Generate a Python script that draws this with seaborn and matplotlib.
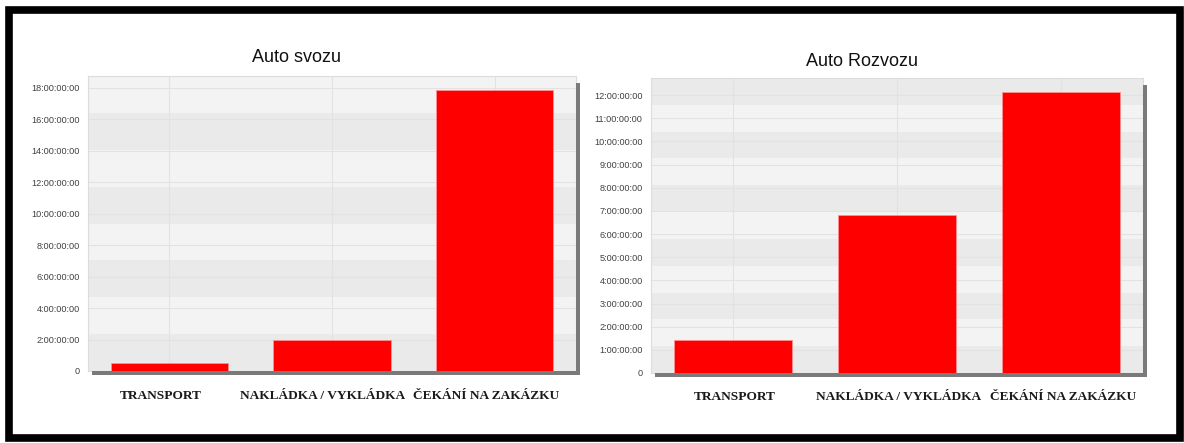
import numpy as np
import pandas as pd
import matplotlib
matplotlib.use("Agg")
import matplotlib.pyplot as plt
from matplotlib.patches import Rectangle
import seaborn as sns

# data (hours)
categories = ["TRANSPORT", "NAKLÁDKA / VYKLÁDKA", "ČEKÁNÍ NA ZAKÁZKU"]
svoz_hours = [0.51, 1.95, 17.87]
rozvoz_hours = [1.41, 6.83, 12.12]
svoz_ticks = [0, 2, 4, 6, 8, 10, 12, 14, 16, 18]
rozvoz_ticks = [0, 1, 2, 3, 4, 5, 6, 7, 8, 9, 10, 11, 12]
titles = ["Auto svozu", "Auto Rozvozu"]

sns.set_style("white")
plt.rcParams['font.family'] = ['Liberation Sans', 'DejaVu Sans']

W, H = 1184, 443
fig = plt.figure(figsize=(W / 100, H / 100), dpi=100)


def px_axes(left, top, right, bottom):
    return fig.add_axes([left / W, 1 - bottom / H, (right - left) / W, (bottom - top) / H])


def fmt(h):
    return "0" if h == 0 else "%d:00:00:00" % h


def draw(ax, values, ticks, ytop, nbands, lab_shift, lab_y):
    df = pd.DataFrame({"kat": categories, "hod": values})
    ax.set_facecolor("#f3f3f3")
    step = ytop / nbands
    for i in range(0, nbands, 2):
        ax.axhspan(i * step, (i + 1) * step, color="#eaeaea", zorder=0, lw=0)
    sns.barplot(data=df, x="kat", y="hod", color="#ff0000", width=0.72,
                saturation=1, edgecolor="#ff9090", linewidth=0.6, ax=ax, zorder=3)
    ax.set_xlim(-0.5, 2.5)
    ax.set_ylim(0, ytop)
    ax.set_yticks(ticks)
    ax.set_yticklabels([fmt(t) for t in ticks], fontsize=6.6, color="#404040")
    ax.set_xticks(range(len(categories)))
    ax.set_xticklabels([])
    for i, c in enumerate(categories):
        ax.text(i + lab_shift, -lab_y / (ax.get_position().height * H), c,
                transform=ax.get_xaxis_transform(), ha="center", va="center",
                fontsize=9.65, fontweight="bold", color="#1a1a1a",
                family=["Liberation Serif", "DejaVu Serif"])
    ax.set_xlabel("")
    ax.set_ylabel("")
    ax.grid(True, color="#e2e2e2", lw=0.8, zorder=1)
    ax.set_axisbelow(True)
    ax.tick_params(axis="y", length=4, color="#d0d0d0", pad=2)
    ax.tick_params(axis="x", length=6, color="#e0e0e0", direction="out")
    for s in ax.spines.values():
        s.set_color("#dcdcdc")
        s.set_linewidth(0.8)
    # drop shadow right and bottom
    bb = ax.get_position()
    dx = 4 / W / bb.width
    dy = 3.5 / H / bb.height
    ax.add_patch(Rectangle((dx, -dy), 1, dy, transform=ax.transAxes,
                           color="#7a7a7a", clip_on=False, zorder=5, lw=0))
    ax.add_patch(Rectangle((1, -dy), dx, 1 - dy, transform=ax.transAxes,
                           color="#7a7a7a", clip_on=False, zorder=5, lw=0))


ax1 = px_axes(88, 76, 576, 371)
draw(ax1, svoz_hours, svoz_ticks, 18.76, 8, -0.055, 25)
ax2 = px_axes(651, 78, 1143, 373)
draw(ax2, rozvoz_hours, rozvoz_ticks, 12.74, 11, 0.01, 24)

fig.text(296 / W, 1 - 57 / H, titles[0], ha="center", va="center", fontsize=13, color="#111")
fig.text(862 / W, 1 - 61 / H, titles[1], ha="center", va="center", fontsize=13, color="#111")

# black frame
fig.patches.append(Rectangle((9 / W, 1 - 438 / H), 1171 / W, 428 / H, transform=fig.transFigure,
                             fill=False, edgecolor="black", lw=5.5, figure=fig))

fig.savefig("out.png", dpi=100)
